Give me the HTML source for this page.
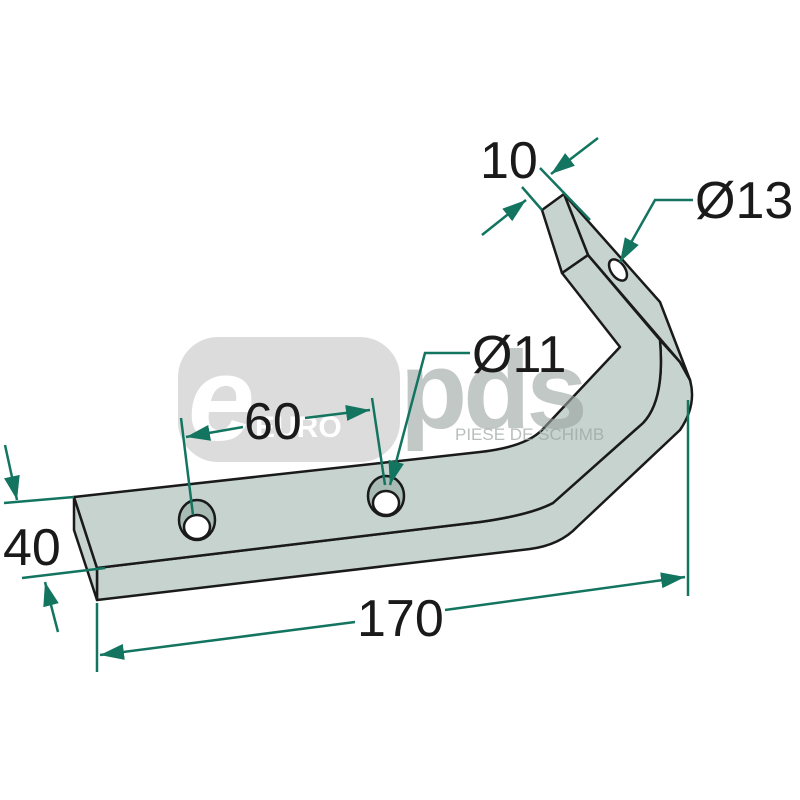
<!DOCTYPE html>
<html><head><meta charset="utf-8"><style>
html,body{margin:0;padding:0;background:#fff;}
svg{display:block;}
text{font-family:"Liberation Sans",sans-serif;}
</style></head><body>
<svg width="800" height="800" viewBox="0 0 800 800" xmlns="http://www.w3.org/2000/svg">
<defs>
<marker id="a2" markerWidth="24" markerHeight="16" refX="24" refY="8" orient="auto" markerUnits="userSpaceOnUse" viewBox="0 0 24 16">
<path d="M0,0 L24,8 L0,16 Z" fill="#137560"/>
</marker>
</defs>

<!-- watermark -->
<rect x="178" y="337" width="222" height="125" rx="40" fill="#dcdcdc"/>
<text x="188" y="440" font-size="120" font-style="italic" fill="#fff" font-weight="bold">e</text>
<text x="255" y="437" font-size="30" fill="#fff" font-weight="bold">EURO</text>

<g stroke="#1a1a1a" stroke-width="2.5" stroke-linejoin="round" fill="#c6d3cf">
<path d="M97,568 L480,522 Q530,515 553,503 L643,423 Q665,400 660,340 L680,362 L690,380 Q697,405 680,430 L577,527 Q560,545 530,549 L97,600 Z"/>
<path d="M74,497 L74,530 L97,600 L97,568 Z"/>
<path d="M74,497 L480,452 Q525,447 542,430 L620,347 L562,273 L588,255 L660,340 Q665,400 643,423 L553,503 Q530,515 480,522 L97,568 Z"/>
<path d="M564,194 L660,302 L690,380 L680,362 L588,255 Z"/>
<path d="M542,210 L564,194 L588,255 L562,273 Z"/>
</g>
<text x="400" y="428" font-size="110" fill="#9aa3a0" fill-opacity="0.6" font-weight="bold" letter-spacing="-4">pds</text>
<text x="455" y="440" font-size="17" fill="#9aa3a0" fill-opacity="0.7">PIESE DE SCHIMB</text>
<!-- holes -->
<g stroke="#1a1a1a" stroke-width="2.5">
<ellipse cx="197" cy="520" rx="18" ry="20" fill="#a8bbb5"/>
<ellipse cx="197" cy="527" rx="13" ry="12" fill="#fff"/>
<ellipse cx="386" cy="496" rx="18" ry="20" fill="#a8bbb5"/>
<ellipse cx="386" cy="503" rx="13" ry="12" fill="#fff"/>
<ellipse cx="618" cy="270" rx="7" ry="12" transform="rotate(-35 618 270)" fill="#fff"/>
</g>

<g stroke="#137560" stroke-width="2.5" fill="none">
<line x1="4" y1="503" x2="74" y2="497"/>
<line x1="22" y1="578" x2="105" y2="568"/>
<line x1="5" y1="445" x2="17" y2="500" marker-end="url(#a2)"/>
<line x1="58" y1="632" x2="45" y2="582" marker-end="url(#a2)"/>
<line x1="97" y1="603" x2="97" y2="672"/>
<line x1="688" y1="400" x2="688" y2="596"/>
<line x1="355" y1="622" x2="100" y2="655" marker-end="url(#a2)"/>
<line x1="445" y1="610" x2="685" y2="577" marker-end="url(#a2)"/>
<line x1="181" y1="418" x2="193" y2="515"/>
<line x1="372" y1="398" x2="385" y2="485"/>
<line x1="243" y1="427" x2="186" y2="437" marker-end="url(#a2)"/>
<line x1="305" y1="418" x2="370" y2="410" marker-end="url(#a2)"/>
<polyline points="470,353 425,353 390,485" marker-end="url(#a2)"/>
<polyline points="693,200 655,200 620,262" marker-end="url(#a2)"/>
<line x1="540" y1="168" x2="590" y2="220"/>
<line x1="522" y1="187" x2="542" y2="210"/>
<line x1="598" y1="138" x2="551" y2="174" marker-end="url(#a2)"/>
<line x1="482" y1="235" x2="526" y2="200" marker-end="url(#a2)"/>
</g>

<g fill="#1a1a1a" font-size="52">
<text x="3" y="565">40</text>
<text x="357" y="636">170</text>
<text x="244" y="439">60</text>
<text x="472" y="372">Ø11</text>
<text x="695" y="218">Ø13</text>
<text x="480" y="178">10</text>
</g>
</svg>
</body></html>
